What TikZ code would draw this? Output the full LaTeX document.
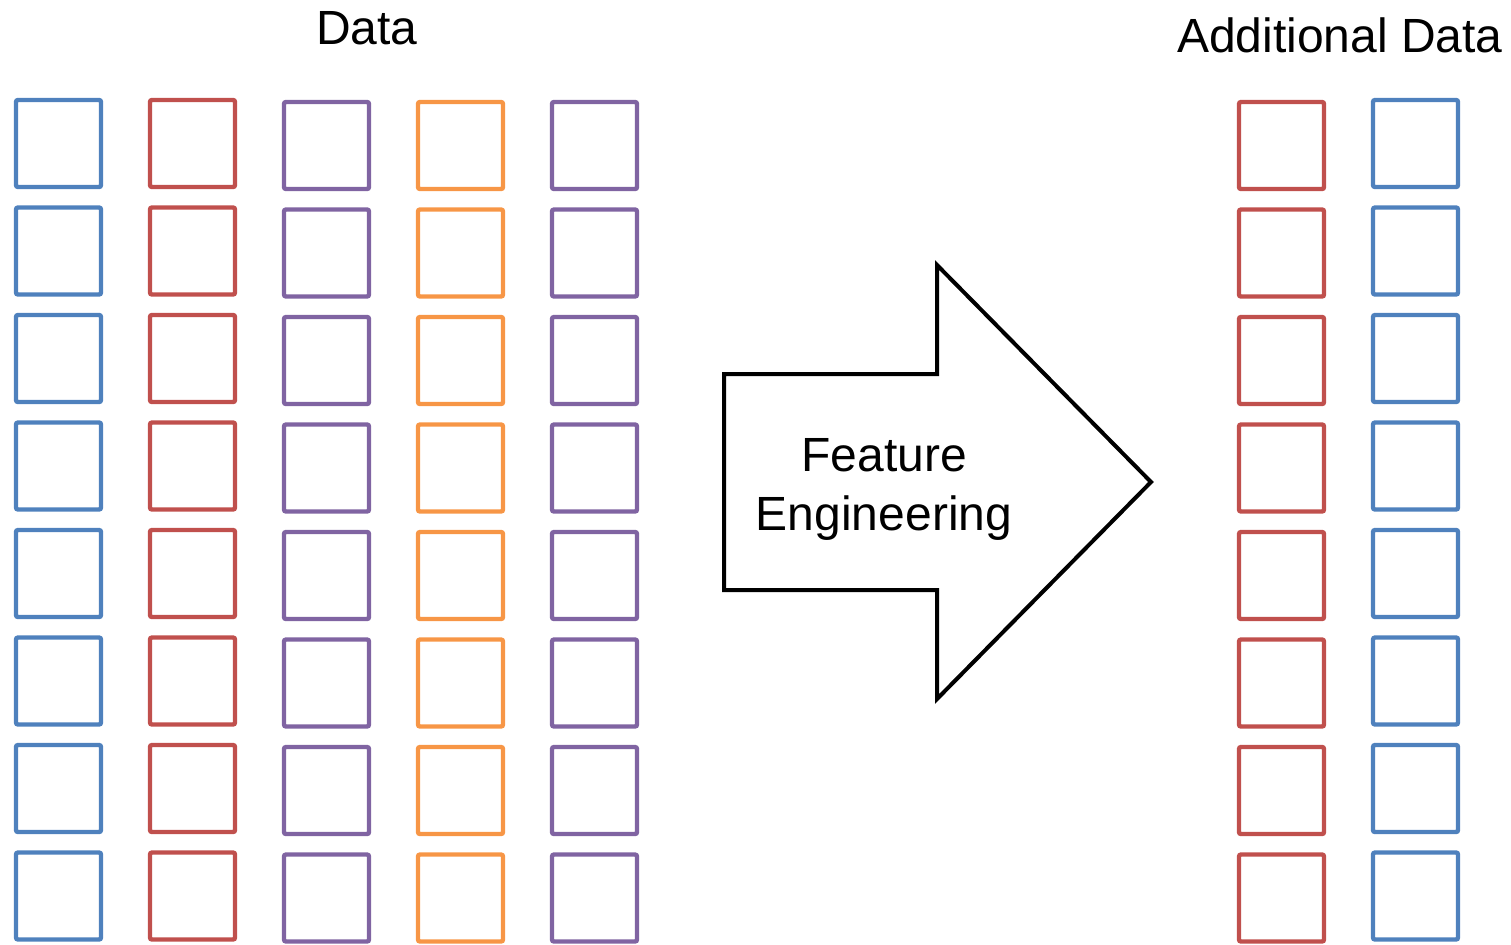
\documentclass[tikz,border=0pt]{standalone}
\usepackage{fontspec}
\setmainfont{Liberation Sans}
\definecolor{cblue}{HTML}{4F81BD}
\definecolor{cred}{HTML}{C0504D}
\definecolor{cpurple}{HTML}{8064A2}
\definecolor{corange}{HTML}{F79646}
\begin{document}
\begin{tikzpicture}[x=0.5pt,y=-0.5pt,
  cell/.style={draw=#1, line width=2.2pt, rounded corners=1pt, inner sep=0pt,
    outer sep=0pt, minimum width=42.5pt, minimum height=43.5pt, anchor=north west},
  title/.style={font=\fontsize{24}{29}\selectfont, inner sep=0pt, anchor=base},
  bigarrow/.style={draw=black, line width=2pt, fill=white, line join=miter}]
\useasboundingbox (0,0) rectangle (1511,944);
% column layout: name / colour / left x / top y
\foreach \n/\c/\x/\t in {a/cblue/16/100, b/cred/150/100, c/cpurple/284/102,
    d/corange/418/102, e/cpurple/552/102, f/cred/1239/102, g/cblue/1373/100}{
  \foreach \r in {0,...,7}{
    \node[cell=\c] (\n\r) at (\x,{\t+107.5*\r}) {};
  }
}
% titles
\node[title] (data) at (367,44) {Data};
\node[title] (extra) at (1340,52) {Additional Data};
% feature engineering arrow
\draw[bigarrow] (724,374) -- (937,374) -- (937,265) -- (1151,482)
  -- (937,699) -- (937,590) -- (724,590) -- cycle;
\node[title] (fe1) at (884,471) {Feature};
\node[title] (fe2) at (884,530) {Engineering};
\end{tikzpicture}
\end{document}
